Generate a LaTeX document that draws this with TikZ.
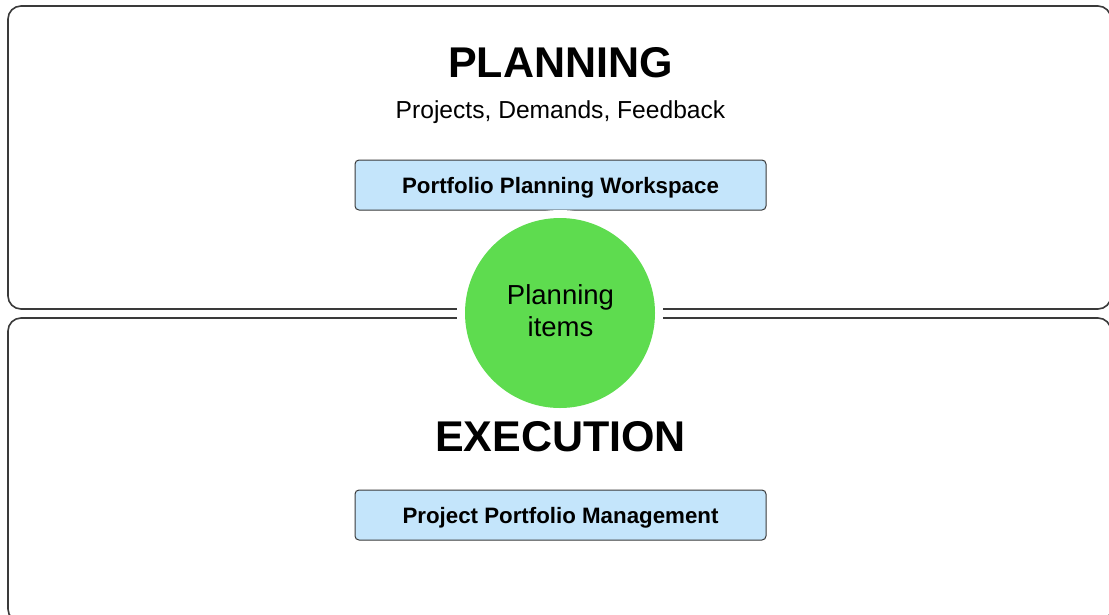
\documentclass[tikz,border=0pt]{standalone}
\usepackage{fontspec}
\setmainfont{Liberation Sans}
\definecolor{boxline}{HTML}{3A3A3A}
\definecolor{bluefill}{HTML}{C4E5FB}
\definecolor{greenfill}{HTML}{5EDC4F}
\tikzset{
  panel/.style={draw=boxline, line width=1.6pt, rounded corners=13pt, fill=white},
  bluebox/.style={draw=boxline, line width=1pt, rounded corners=4pt, fill=bluefill,
    minimum width=411pt, minimum height=50pt, inner sep=0pt},
  boxlabel/.style={font=\fontsize{22.3}{24}\selectfont\bfseries, inner sep=0pt, anchor=base},
  bigtitle/.style={font=\fontsize{43}{48}\selectfont\bfseries, inner sep=0pt},
}
\begin{document}
\begin{tikzpicture}[x=1pt,y=-1pt]
\useasboundingbox (0,0) rectangle (1109,614);
\clip (0,0) rectangle (1109,614);
\fill[white] (0,0) rectangle (1109,614);
% panels
\draw[panel] (8,6) rectangle (1111,309);
\draw[panel] (8,318) rectangle (1111,622);
% blue boxes
\node[bluebox] (ppw) at (560.5,185) {};
\node[boxlabel] (ppwt) at (560.5,193) {Portfolio Planning Workspace};
\node[bluebox] (ppm) at (560.5,515) {};
\node[boxlabel] (ppmt) at (560.5,523) {Project Portfolio Management};
% circle with white halo
\fill[white] (560,313) circle (103);
\node[circle, fill=greenfill, minimum size=190pt, inner sep=0pt] (items) at (560,313) {};
\node[font=\fontsize{27.5}{33}\selectfont, inner sep=0pt, anchor=base] (l1) at (560.5,304) {Planning};
\node[font=\fontsize{27.5}{33}\selectfont, inner sep=0pt, anchor=base] (l2) at (560.5,336) {items};
% titles
\node[bigtitle, anchor=base] (plan) at (560.5,77) {PLANNING};
\node[font=\fontsize{24.6}{26}\selectfont, inner sep=0pt, anchor=base] (sub) at (560.5,118) {Projects, Demands, Feedback};
\node[bigtitle, anchor=base] (exec) at (560.5,451) {EXECUTION};
\end{tikzpicture}
\end{document}
